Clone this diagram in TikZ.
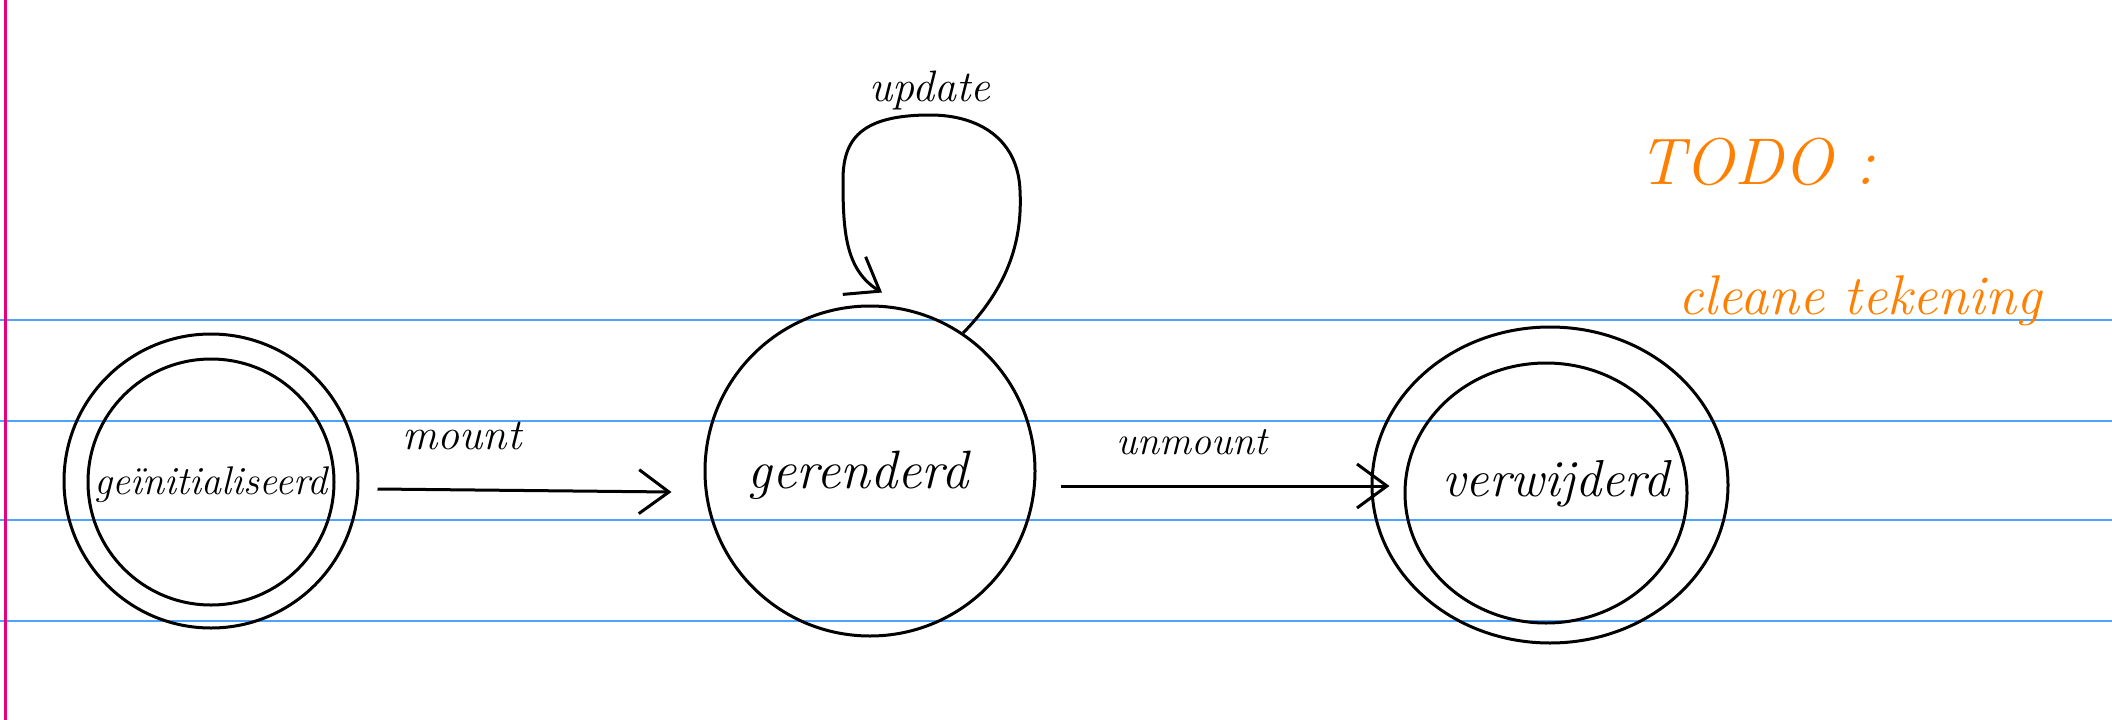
\documentclass[tikz,border=0pt]{standalone}
\usepackage{fontspec}
\usetikzlibrary{arrows.meta,shapes.geometric}
\definecolor{ruleblue}{HTML}{4DA3FF}
\definecolor{marginpink}{HTML}{E6007E}
\definecolor{todoorange}{HTML}{FF8000}
\begin{document}
\begin{tikzpicture}[x=1pt,y=-1pt,
  ink/.style={line width=3pt, black},
  stateshape/.style={ellipse, draw, ink, inner sep=0pt},
  lbl/.style={inner sep=0pt, anchor=base},
  arr/.style={ink, -{Straight Barb[length=30pt,width=44pt]}},
  ruling/.style={ruleblue, line width=2pt},
  todo/.style={todoorange, inner sep=0pt, anchor=base}]
\useasboundingbox (0,0) rectangle (2112,720);
\fill[white] (0,0) rectangle (2112,720);
\foreach \yy in {320,421,520,621} \draw[ruling] (0,\yy) -- (2112,\yy);
\draw[marginpink, line width=3pt] (5,0) -- (5,720);

% states
\node[stateshape, minimum width=294pt, minimum height=294pt] (ao) at (211,481) {};
\node[stateshape, minimum width=246pt, minimum height=246pt] (a) at (211,482) {};
\node[stateshape, minimum width=330pt, minimum height=330pt] (g) at (870,471) {};
\node[stateshape, minimum width=356pt, minimum height=316pt] (vo) at (1550,485) {};
\node[stateshape, minimum width=282pt, minimum height=260pt] (v) at (1546,493) {};

\node[lbl, font=\fontsize{40}{46}\selectfont\itshape] (ta) at (211,494) {geïnitialiseerd};
\node[lbl, font=\fontsize{54}{60}\selectfont\itshape] (tg) at (858,488) {gerenderd};
\node[lbl, font=\fontsize{52}{58}\selectfont\itshape] (tv) at (1556,496) {verwijderd};

% transitions
\draw[arr] ([xshift=18pt,yshift=-8pt]ao.east) -- ([xshift=-32pt,yshift=-21pt]g.west);
\node[lbl, font=\fontsize{44}{52}\selectfont\itshape] (tm) at (462,449) {mount};
\draw[arr] ([xshift=24pt,yshift=-15pt]g.east) -- ([xshift=-14pt,yshift=7pt]v.west);
\node[lbl, font=\fontsize{40}{48}\selectfont\itshape] (tu2) at (1192,454) {unmount};

\draw[arr] (g.56) .. controls (1015,280) and (1022,230) .. (1020,190)
  .. controls (1018,140) and (980,115) .. (930,115)
  .. controls (860,115) and (843,140) .. (843,180)
  .. controls (843,230) and (845,270) .. ([xshift=12pt,yshift=12pt]g.north);
\node[lbl, font=\fontsize{44}{50}\selectfont\itshape] (tu) at (930,101) {update};

% todo note
\node[todo, font=\fontsize{66}{74}\selectfont\itshape] (todo1) at (1757,184) {TODO :};
\node[todo, font=\fontsize{56}{62}\selectfont\itshape] (todo2) at (1860,314) {cleane tekening};
\end{tikzpicture}
\end{document}
